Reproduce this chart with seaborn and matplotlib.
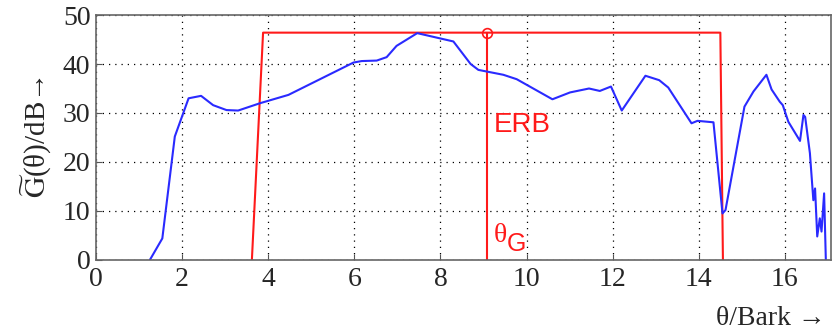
import numpy as np
import pandas as pd
import seaborn as sns
import matplotlib.pyplot as plt

# Spectrum of the signal (blue curve)
theta = [1.25, 1.54, 1.83, 2.15, 2.44, 2.72, 3.03, 3.30, 3.81, 4.47, 5.98, 6.17, 6.52,
         6.75, 6.98, 7.46, 8.30, 8.70, 8.88, 9.46, 9.77, 10.60, 11.01, 11.45, 11.70,
         11.96, 12.21, 12.76, 13.08, 13.29, 13.83, 13.97, 14.34, 14.55, 14.62, 15.06,
         15.27, 15.57, 15.69, 15.88, 15.95, 16.08, 16.35, 16.43, 16.47, 16.58, 16.66,
         16.70, 16.75, 16.81, 16.85, 16.91, 16.95]
gain = [0.0, 4.4, 25.2, 33.0, 33.5, 31.6, 30.6, 30.5, 32.0, 33.7, 40.3, 40.6, 40.7,
        41.4, 43.7, 46.3, 44.6, 40.0, 38.8, 37.8, 36.9, 32.8, 34.2, 35.0, 34.5,
        35.4, 30.5, 37.6, 36.7, 35.2, 27.9, 28.4, 28.1, 9.5, 10.2, 31.3,
        34.4, 37.8, 34.8, 32.3, 31.6, 28.2, 24.3, 29.6, 29.2, 21.8, 12.2,
        14.6, 4.8, 8.5, 5.8, 13.6, 0.0]

# Equivalent rectangular band (red)
erb_x = [3.62, 3.88, 14.50, 14.56]
erb_y = [0.0, 46.4, 46.4, 0.0]
theta_g = 9.07
g_max = 46.4

sns.set_style('ticks')
plt.rcParams['font.family'] = ['Liberation Serif', 'DejaVu Serif']
plt.rcParams['mathtext.fontset'] = 'stix'

fig = plt.figure(figsize=(8.32, 3.32), dpi=100)
ax = fig.add_axes([0.1154, 0.2169, 0.8834, 0.7379])

sns.lineplot(x=erb_x, y=erb_y, sort=False, estimator=None, color='#ff1a1a', lw=1.5, ax=ax)
ax.plot([theta_g, theta_g], [0, g_max], color='#ff1a1a', lw=1.5)
ax.plot([theta_g], [g_max], 'o', mfc='none', mec='#ff1a1a', ms=7, mew=1.2)
sns.lineplot(x=theta, y=gain, sort=False, estimator=None, color='#2a2aff', lw=1.5, ax=ax)

ax.text(9.24, 27.5, 'ERB', color='#ff1a1a', fontsize=20, family='Liberation Sans', va='center')
ax.text(9.24, 4.9, 'θ', color='#ff1a1a', fontsize=20, family='Liberation Serif', va='center')
ax.text(9.54, 3.3, 'G', color='#ff1a1a', fontsize=18, family='Liberation Sans', va='center')

ax.set_xlim(0, 17.07)
ax.set_ylim(0, 50)
ax.set_xticks(range(0, 17, 2))
ax.set_yticks(range(0, 51, 10))
ax.grid(True, color='black', linestyle=(0, (1, 4)), lw=0.9)
ax.tick_params(direction='in', length=4, labelsize=20, color='#555555', pad=5)
ax.tick_params(axis='y', pad=4)
for s in ax.spines.values():
    s.set_color('#666666')
    s.set_linewidth(1.2)

ax.set_ylabel(r'$\widetilde{\mathrm{G}}$(θ)/dB→', fontsize=21, labelpad=6)
fig.text(0.992, 0.04, 'θ/Bark →', fontsize=20, ha='right', va='center')

plt.savefig('out.png', dpi=100)
